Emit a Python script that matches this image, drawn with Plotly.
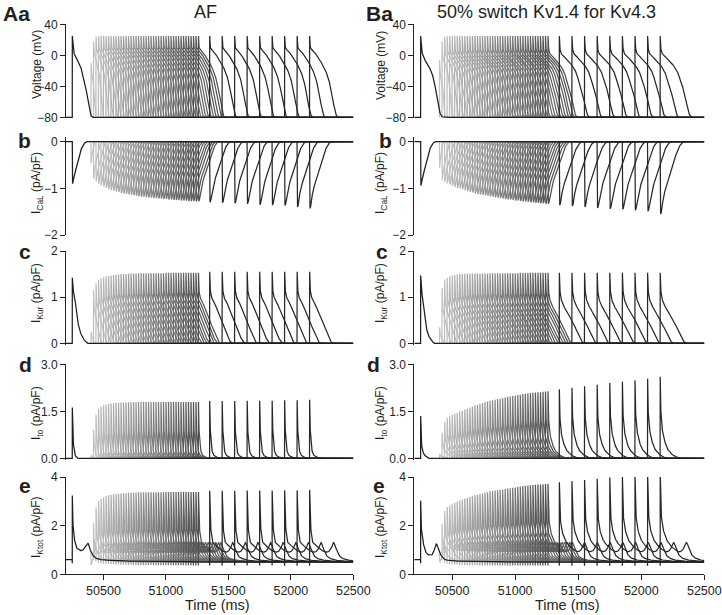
import numpy as np
import plotly.graph_objects as go

W, H = 722, 615
T_START, T_END = 50200, 52500
S1_TIME = 50250

# ---------------- protocol: S2 stimulus times (44 grey + 9 dark) ----------------
S2_TIMES = [50400, 50420, 50440, 50460, 50480, 50500, 50520, 50540, 50560, 50580,
            50600, 50620, 50640, 50660, 50680, 50700, 50720, 50740, 50760, 50780,
            50800, 50820, 50840, 50860, 50880, 50900, 50920, 50940, 50960, 50980,
            51000, 51020, 51040, 51060, 51080, 51100, 51120, 51140, 51160, 51180,
            51200, 51220, 51240, 51260,
            51350, 51450, 51550, 51650, 51750, 51850, 51950, 52050, 52150]
N_GRAY = 44

# ---------------- per-beat values ----------------
APD_L = [35, 75, 100, 115, 126, 134, 141, 147, 152, 156,
         160, 163, 166, 169, 171, 173, 175, 177, 179, 180,
         182, 183, 184, 185, 186, 187, 188, 189, 190, 191,
         191, 192, 193, 193, 194, 194, 195, 195, 196, 196,
         197, 197, 198, 198,
         203, 205, 206, 207, 208, 209, 210, 211, 212]
APD_R = [38, 80, 108, 124, 136, 145, 152, 159, 164, 168,
         173, 176, 179, 182, 185, 187, 189, 191, 193, 194,
         197, 198, 199, 200, 201, 202, 203, 204, 205, 206,
         206, 207, 208, 208, 210, 210, 211, 211, 212, 212,
         213, 213, 214, 214,
         220, 222, 223, 224, 225, 226, 227, 228, 230]
VPEAK_L = [-10, 18, 24] + [25] * 50
VPEAK_R = [-6, 18, 24] + [25] * 50
ICAL_L = [-0.46, -0.80, -0.85, -0.90, -0.93, -0.96, -0.99, -1.01, -1.03, -1.05,
          -1.07, -1.08, -1.10, -1.11, -1.12, -1.13, -1.14, -1.15, -1.16, -1.17,
          -1.18, -1.18, -1.19, -1.20, -1.20, -1.21, -1.21, -1.22, -1.22, -1.23,
          -1.23, -1.24, -1.24, -1.25, -1.25, -1.25, -1.26, -1.26, -1.26, -1.27,
          -1.27, -1.27, -1.28, -1.28,
          -1.30, -1.31, -1.32, -1.33, -1.35, -1.36, -1.37, -1.40, -1.43]
ICAL_R = [-0.56, -0.82, -0.86, -0.89, -0.92, -0.95, -0.97, -0.99, -1.00, -1.02,
          -1.04, -1.06, -1.08, -1.09, -1.11, -1.12, -1.13, -1.14, -1.15, -1.16,
          -1.17, -1.18, -1.19, -1.20, -1.21, -1.22, -1.23, -1.24, -1.24, -1.25,
          -1.26, -1.26, -1.27, -1.28, -1.28, -1.29, -1.30, -1.30, -1.31, -1.31,
          -1.32, -1.32, -1.33, -1.33,
          -1.36, -1.38, -1.40, -1.42, -1.44, -1.45, -1.47, -1.49, -1.55]
IKUR_L = [0.25, 1.15, 1.30, 1.37, 1.41, 1.43, 1.45, 1.46, 1.47, 1.48,
          1.49, 1.49, 1.50, 1.50, 1.50, 1.51, 1.51, 1.51, 1.51, 1.52] + [1.52] * 10 + [1.53] * 14 + [1.55] * 9
IKUR_R = [0.35, 1.20, 1.38, 1.42, 1.45, 1.47, 1.48, 1.49, 1.50, 1.50] + [1.51] * 10 + [1.52] * 12 + [1.53] * 12 + [1.53] * 9
ITO_L = [0.10, 0.90, 1.40, 1.58, 1.65, 1.69, 1.72, 1.74, 1.75, 1.76,
         1.77, 1.77, 1.78, 1.78, 1.78, 1.79, 1.79, 1.79, 1.79, 1.80] + [1.80] * 24 + \
        [1.83, 1.83, 1.83, 1.84, 1.84, 1.84, 1.85, 1.85, 1.87]
ITO_R = [0.15, 0.82, 1.17, 1.30, 1.34, 1.38, 1.42, 1.45, 1.49, 1.52,
         1.56, 1.59, 1.62, 1.65, 1.69, 1.71, 1.74, 1.76, 1.79, 1.81,
         1.84, 1.85, 1.87, 1.89, 1.90, 1.92, 1.94, 1.96, 1.97, 1.99,
         2.00, 2.02, 2.03, 2.05, 2.06, 2.07, 2.08, 2.09, 2.10, 2.11,
         2.11, 2.12, 2.13, 2.14,
         2.20, 2.25, 2.30, 2.35, 2.40, 2.44, 2.49, 2.54, 2.60]
for arr in (APD_L, APD_R, VPEAK_L, VPEAK_R, ICAL_L, ICAL_R, IKUR_L, IKUR_R, ITO_L, ITO_R):
    assert len(arr) == len(S2_TIMES)

S1_ICAL_L, S1_ICAL_R = -0.90, -0.94
S1_IKUR_L, S1_IKUR_R = 1.42, 1.47
S1_ITO_L, S1_ITO_R = 1.62, 1.35
KTOT_PRE_L, KTOT_PRE_R = 0.60, 0.60
KTOT_DIP = 0.15
REST_V = -80.0

# ---------------- waveform key points ----------------
V_S2_S_L = [0.0, 0.012, 0.04, 0.09, 0.2, 0.34, 0.47, 0.59, 0.7, 0.78, 0.85, 0.9, 0.95, 1.0, 1.05, 1.12, 1.3]
V_S2_V_L = [25, 14, 9, 7, 3, -4, -11, -19, -29, -40, -52, -62, -71, -77, -79.5, -80, -80]
V_S2_S_R = [0.0, 0.012, 0.057, 0.15, 0.34, 0.51, 0.6, 0.69, 0.78, 0.86, 0.93, 0.97, 1.0, 1.09, 1.3]
V_S2_V_R = [25, 12, 3, -1, -8, -16, -22, -32, -42, -53, -66, -73, -76, -80, -80]
V_S1_T_L = [0, 2, 6, 13, 40, 67, 80, 93, 107, 120, 128, 139, 147, 165, 200]
V_S1_V_L = [25, 20, 10, 3, -6, -15, -23, -31, -40, -53, -61, -70, -77, -80, -80]
V_S1_T_R = [0, 2, 6, 18, 40, 79, 105, 124, 145, 160, 171, 200]
V_S1_V_R = [25, 18, 8, 0, -8, -19, -32, -49, -70, -77, -79.5, -80]

CAL_S2_S = [0.0, 0.012, 0.12, 0.3, 0.47, 0.62, 0.74, 0.82]
CAL_S2_R = [0.0, 1.0, 0.75, 0.5, 0.27, 0.1, 0.02, 0.0]
CAL_S1_T = [0, 2, 10, 27, 53, 80, 100, 112]
CAL_S1_R = [0, 1, 0.88, 0.68, 0.36, 0.12, 0.03, 0]

KUR_S2_S_L = [0.0, 0.01, 0.038, 0.23, 0.42, 0.61, 0.74, 0.86, 0.95]
KUR_S2_R_L = [1.0, 0.85, 0.70, 0.53, 0.35, 0.19, 0.07, 0.005, 0.0]
KUR_S2_S_R = [0.0, 0.01, 0.035, 0.17, 0.34, 0.51, 0.69, 0.8, 0.88, 0.95]
KUR_S2_R_R = [1.0, 0.85, 0.69, 0.52, 0.40, 0.28, 0.12, 0.03, 0.005, 0.0]
KUR_S1_T_L = [0, 2, 8, 19, 37, 59, 85, 117]
KUR_S1_R_L = [1, 0.9, 0.8, 0.71, 0.41, 0.2, 0.08, 0]
KUR_S1_T_R = [0, 2, 6, 13, 40, 66, 105]
KUR_S1_R_R = [1, 0.9, 0.8, 0.69, 0.27, 0.1, 0]

ITO_S2_T_L = [0, 1, 3, 6, 11, 16, 21, 30, 48, 88]
ITO_S2_R_L = [1, 0.85, 0.62, 0.45, 0.31, 0.18, 0.11, 0.06, 0.03, 0]
ITO_S1_T_L = [0, 1, 3, 6, 11, 21, 30, 45]
ITO_S1_R_L = [1, 0.8, 0.55, 0.38, 0.23, 0.07, 0.03, 0]
ITO_S2_T_R = [0, 1, 3, 7, 13, 22, 32, 53, 75, 92, 120, 160]
ITO_S2_R_R = [1, 0.85, 0.68, 0.52, 0.4, 0.3, 0.23, 0.13, 0.08, 0.05, 0.02, 0]
ITO_S1_T_R = [0, 1, 3, 6, 13, 25, 40, 60]
ITO_S1_R_R = [1, 0.75, 0.5, 0.35, 0.21, 0.1, 0.05, 0]

OTH_S2_S = [0.0, 0.02, 0.23, 0.42, 0.61, 0.74, 0.85, 0.9, 0.95, 1.0]
OTH_S2_V = [0.05, 0.1, 0.33, 0.46, 0.62, 0.85, 1.15, 1.3, 1.22, 1.05]
OTH_TAIL_T = [0, 20, 50, 100, 200, 400, 1000]
OTH_TAIL_V = [1.05, 0.8, 0.66, 0.58, 0.53, 0.51, 0.5]
OTH_S1_T_L = [0, 1, 19, 45, 85, 107, 125, 133, 144, 160, 179, 210, 245, 400, 800, 2300]
OTH_S1_V_L = [0.2, 0.2, 0.24, 0.58, 0.89, 1.11, 1.27, 1.2, 1.0, 0.82, 0.7, 0.62, 0.59, 0.55, 0.52, 0.5]
OTH_S1_T_R = [0, 1, 20, 45, 66, 85, 105, 124, 135, 150, 170, 197, 250, 400, 800, 2300]
OTH_S1_V_R = [0.2, 0.2, 0.3, 0.5, 0.65, 0.72, 0.95, 1.25, 1.15, 0.9, 0.72, 0.6, 0.56, 0.53, 0.51, 0.5]

UP = 0.5  # upstroke sample (ms)


def pchip(xk, yk, x):
    xk = np.asarray(xk, float)
    yk = np.asarray(yk, float)
    x = np.asarray(x, float)
    h = np.diff(xk)
    d = np.diff(yk) / h
    n = len(xk)
    m = np.zeros(n)
    m[0], m[-1] = d[0], d[-1]
    for i in range(1, n - 1):
        if d[i - 1] * d[i] > 0:
            w1 = 2 * h[i] + h[i - 1]
            w2 = h[i] + 2 * h[i - 1]
            m[i] = (w1 + w2) / (w1 / d[i - 1] + w2 / d[i])
    xc = np.clip(x, xk[0], xk[-1])
    idx = np.clip(np.searchsorted(xk, xc, side='right') - 1, 0, n - 2)
    t = (xc - xk[idx]) / h[idx]
    t2, t3 = t * t, t * t * t
    return ((2 * t3 - 3 * t2 + 1) * yk[idx] + (t3 - 2 * t2 + t) * h[idx] * m[idx]
            + (-2 * t3 + 3 * t2) * yk[idx + 1] + (t3 - t2) * h[idx] * m[idx + 1])


COLS = {
    'L': dict(apd=APD_L, vpk=VPEAK_L, cal=ICAL_L, kur=IKUR_L, ito=ITO_L,
              vS=V_S2_S_L, vV=V_S2_V_L, v1T=V_S1_T_L, v1V=V_S1_V_L,
              kS=KUR_S2_S_L, kR=KUR_S2_R_L, k1T=KUR_S1_T_L, k1R=KUR_S1_R_L,
              iT=ITO_S2_T_L, iR=ITO_S2_R_L, i1T=ITO_S1_T_L, i1R=ITO_S1_R_L,
              oT=OTH_S1_T_L, oV=OTH_S1_V_L, cal1=S1_ICAL_L, kur1=S1_IKUR_L,
              ito1=S1_ITO_L, pre=KTOT_PRE_L),
    'R': dict(apd=APD_R, vpk=VPEAK_R, cal=ICAL_R, kur=IKUR_R, ito=ITO_R,
              vS=V_S2_S_R, vV=V_S2_V_R, v1T=V_S1_T_R, v1V=V_S1_V_R,
              kS=KUR_S2_S_R, kR=KUR_S2_R_R, k1T=KUR_S1_T_R, k1R=KUR_S1_R_R,
              iT=ITO_S2_T_R, iR=ITO_S2_R_R, i1T=ITO_S1_T_R, i1R=ITO_S1_R_R,
              oT=OTH_S1_T_R, oV=OTH_S1_V_R, cal1=S1_ICAL_R, kur1=S1_IKUR_R,
              ito1=S1_ITO_R, pre=KTOT_PRE_R),
}

S1_OFF = np.concatenate([[T_START - S1_TIME, -0.5, 0.0], np.arange(0.5, 12, 0.5),
                         np.arange(12, 60, 1.0), np.arange(60, 400, 2.0),
                         np.arange(400, T_END - S1_TIME, 25.0), [T_END - S1_TIME]])


def s1_ktot(p, u):
    u = np.asarray(u, float)
    uu = np.maximum(u - UP, 0)
    kur = pchip(p['k1T'], p['k1R'], uu) * p['kur1']
    ito = pchip(p['i1T'], p['i1R'], uu) * p['ito1']
    return np.where(u > 0, ito + kur + pchip(p['oT'], p['oV'], uu), p['pre'])


def s1_panels(p):
    u = S1_OFF
    uu = np.maximum(u - UP, 0)
    pos = u > 0
    V = np.where(pos, pchip(p['v1T'], p['v1V'], uu), REST_V)
    CaL = np.where(pos, pchip(CAL_S1_T, CAL_S1_R, uu) * p['cal1'], 0.0)
    Kur = np.where(pos, pchip(p['k1T'], p['k1R'], uu) * p['kur1'], 0.0)
    Ito = np.where(pos, pchip(p['i1T'], p['i1R'], uu) * p['ito1'], 0.0)
    Kt = s1_ktot(p, u)
    Kt[u == 0] = p['pre'] - KTOT_DIP
    return u + S1_TIME, [V, CaL, Kur, Ito, Kt]


def s2_offsets(t0, D):
    end = min(D + 520.0, T_END - t0)
    o = np.concatenate([[-0.5, 0.0], np.arange(0.5, 12.0, 0.5), np.arange(12.0, 60.0, 1.0),
                        np.arange(60.0, end, 2.0), [end]])
    return o[o <= end]


def s2_panels(p, k):
    t0 = S2_TIMES[k]
    D = float(p['apd'][k])
    off = s2_offsets(t0, D)
    oo = np.maximum(off - UP, 0)
    s = oo / D
    pos = off > 0
    a = (p['vpk'][k] - REST_V) / (p['vV'][0] - REST_V)
    V = np.where(pos, REST_V + (pchip(p['vS'], p['vV'], s) - REST_V) * a, REST_V)
    CaL = np.where(pos, pchip(CAL_S2_S, CAL_S2_R, s) * p['cal'][k], 0.0)
    Kur = np.where(pos, pchip(p['kS'], p['kR'], s) * p['kur'][k], 0.0)
    Ito = np.where(pos, pchip(p['iT'], p['iR'], oo) * p['ito'][k], 0.0)
    oth = np.where(s <= 1.0, pchip(OTH_S2_S, OTH_S2_V, s), pchip(OTH_TAIL_T, OTH_TAIL_V, oo - D))
    base = s1_ktot(p, t0 - S1_TIME + off)
    Kt = np.where(pos, Ito + Kur + oth, base)
    Kt[off == 0] = base[off == 0] - KTOT_DIP
    return t0 + off, [V, CaL, Kur, Ito, Kt]


def trace_color(k):
    if k < N_GRAY:
        lv = int(round(195 - 115 * k / (N_GRAY - 1)))
    else:
        lv = 40
    return f"rgb({lv},{lv},{lv})"


# ---------------- layout geometry (pixels) ----------------
X_DOM_PX = {'L': (66.0, 353.3), 'R': (414.3, 704.3)}
Y_NOM = [(-80, 40), (-2, 0.107), (0, 2), (0, 3), (0, 4)]
Y_PX = [(117.3, 24.3), (235.0, 136.7), (343.3, 251.0), (458.3, 364.3), (574.3, 477.0)]
Y_LO_EXT = [-81.0, -2.0, -0.03, -0.045, 0.0]
Y_TICKS = [[-80, -40, 0, 40], [-2, -1, 0], [0, 1, 2], [0, 1.5, 3], [0, 2, 4]]
Y_TICKTEXT = [['−80', '−40', '0', '40'], ['−2', '−1', '0'], ['0', '1', '2'], ['0.0', '1.5', '3.0'], ['0', '2', '4']]
X_TICKS = [50500, 51000, 51500, 52000, 52500]

FONT = "Liberation Sans, Arial, Helvetica, sans-serif"
TXT = "#231f20"
LW = 1.25

fig = go.Figure()
layout = dict(width=W, height=H, margin=dict(l=0, r=0, t=0, b=0, pad=0),
              paper_bgcolor='white', plot_bgcolor='white', showlegend=False,
              font=dict(family=FONT, color=TXT, size=12), template='none')

for ci, col in enumerate(['L', 'R']):
    p = COLS[col]
    beats = [s2_panels(p, k) for k in range(len(S2_TIMES))]
    s1x, s1y = s1_panels(p)
    for r in range(5):
        n = ci * 5 + r + 1
        xa = 'x' if n == 1 else f'x{n}'
        ya = 'y' if n == 1 else f'y{n}'
        for k, (bx, bys) in enumerate(beats):
            fig.add_trace(go.Scatter(x=bx, y=np.round(bys[r], 4), mode='lines', xaxis=xa, yaxis=ya,
                                     line=dict(color=trace_color(k), width=LW), hoverinfo='skip'))
        fig.add_trace(go.Scatter(x=s1x, y=np.round(s1y[r], 4), mode='lines', xaxis=xa, yaxis=ya,
                                 line=dict(color='rgb(30,30,30)', width=LW), hoverinfo='skip'))
        lo, hi = Y_NOM[r]
        pb, pt = Y_PX[r]
        scale = (pb - pt) / (hi - lo)
        pb_ext = pb + (lo - Y_LO_EXT[r]) * scale
        x0, x1 = X_DOM_PX[col]
        key = '' if n == 1 else str(n)
        xaxis = dict(domain=[x0 / W, x1 / W], range=[T_START, T_END], anchor=ya,
                     showgrid=False, zeroline=False, fixedrange=True)
        if r == 4:
            xaxis.update(showline=True, linecolor='#222', linewidth=1, ticks='outside', ticklen=5,
                         tickwidth=1, tickcolor='#222', tickvals=X_TICKS,
                         ticktext=[str(v) for v in X_TICKS], tickfont=dict(size=12.5, family=FONT, color=TXT))
        else:
            xaxis.update(visible=False)
        yaxis = dict(domain=[1 - pb_ext / H, 1 - pt / H], range=[Y_LO_EXT[r], hi], anchor=xa,
                     showgrid=False, zeroline=False, showline=True, linecolor='#222', linewidth=1,
                     ticks='outside', ticklen=5, tickwidth=1, tickcolor='#222',
                     tickvals=Y_TICKS[r], ticktext=Y_TICKTEXT[r],
                     tickfont=dict(size=12, family=FONT, color=TXT), fixedrange=True)
        layout['xaxis' + key] = xaxis
        layout['yaxis' + key] = yaxis

annotations = []


def ann(text, x, y, size, bold=False, angle=0, xanchor='center', yanchor='middle'):
    annotations.append(dict(text=f"<b>{text}</b>" if bold else text, x=x / W, y=1 - y / H,
                            xref='paper', yref='paper', showarrow=False, textangle=angle,
                            xanchor=xanchor, yanchor=yanchor,
                            font=dict(size=size, family=FONT, color=TXT)))


ann("AF", 205, 12, 18)
ann("50% switch Kv1.4 for Kv4.3", 546, 12, 18)
LETTERS_L = [("Aa", 1, 14), ("b", 16, 140), ("c", 17, 251), ("d", 17, 364), ("e", 17, 485)]
LETTERS_R = [("Ba", 364, 14), ("b", 377, 140), ("c", 374, 251), ("d", 365, 364), ("e", 371, 485)]
for t, x, y in LETTERS_L + LETTERS_R:
    ann(t, x, y, 21, bold=True, xanchor='left')
Y_TITLES = ["Voltage (mV)", "I<sub>CaL</sub> (pA/pF)", "I<sub>Kur</sub> (pA/pF)",
            "I<sub>to</sub> (pA/pF)", "I<sub>Ktot</sub> (pA/pF)"]
Y_TITLE_CY = [65, 183, 293, 413, 527]
for r in range(5):
    ann(Y_TITLES[r], 37, Y_TITLE_CY[r], 12, angle=-90)
    ann(Y_TITLES[r], 381, Y_TITLE_CY[r], 12, angle=-90)
ann("Time (ms)", 217, 605, 14.5)
ann("Time (ms)", 567, 605, 14.5)

layout['annotations'] = annotations
fig.update_layout(**layout)
fig.write_html("out.html", config={'displayModeBar': False},
               post_script="document.body.style.margin='0px';document.body.style.padding='0px';document.body.style.overflow='hidden';")
